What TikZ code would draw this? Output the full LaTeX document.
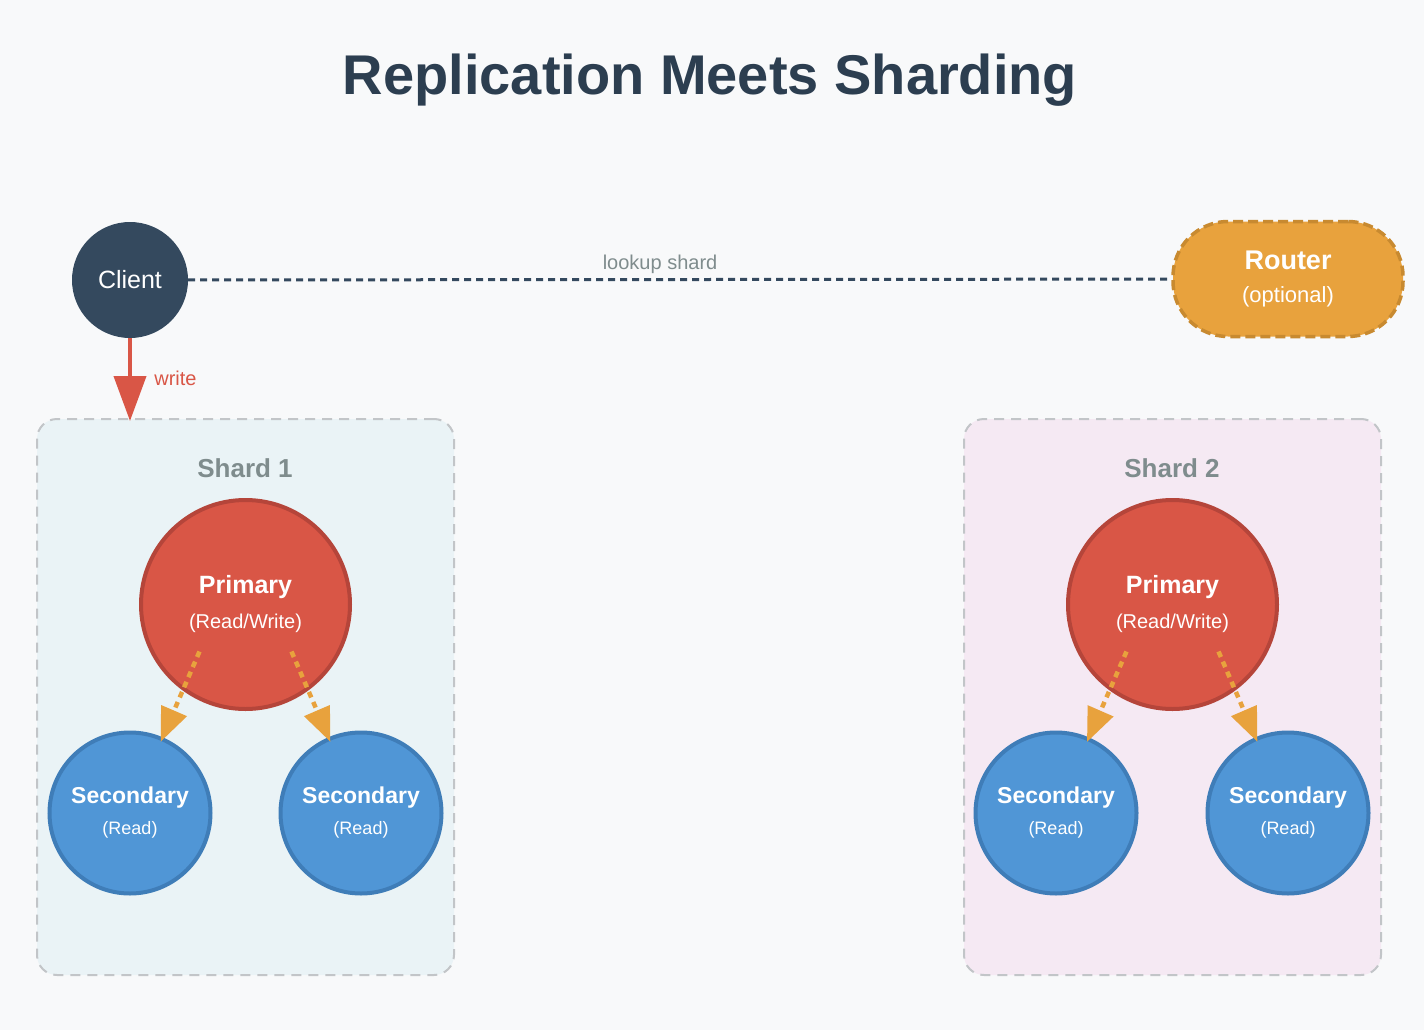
\documentclass[tikz,border=0pt]{standalone}
\usepackage{fontspec}
\setmainfont{Liberation Sans}
\usetikzlibrary{arrows.meta}

\definecolor{bgcol}{HTML}{F8F9FA}
\definecolor{titlecol}{HTML}{2C3E50}
\definecolor{clientcol}{HTML}{34495E}
\definecolor{primfill}{HTML}{D95646}
\definecolor{primline}{HTML}{B5453A}
\definecolor{secfill}{HTML}{5096D6}
\definecolor{secline}{HTML}{3F7DB8}
\definecolor{routfill}{HTML}{E8A23D}
\definecolor{routline}{HTML}{C88A30}
\definecolor{shardafill}{HTML}{EAF3F6}
\definecolor{shardbfill}{HTML}{F5E9F3}
\definecolor{shardline}{HTML}{C2C5C8}
\definecolor{lblgray}{HTML}{7F8C8D}

\tikzset{
	shardbox/.style = {draw=shardline, line width=2pt, dash pattern=on 10pt off 7pt,
		rounded corners=20pt, minimum width=417pt, minimum height=556pt, inner sep=0pt},
	shardlbl/.style = {text=lblgray, anchor=base, font=\bfseries\fontsize{26}{30}\selectfont},
	primnode/.style = {circle, draw=primline, fill=primfill, line width=4pt, minimum size=209pt,
		inner sep=0pt, text=white, align=center, font=\fontsize{20}{35}\selectfont},
	secnode/.style = {circle, draw=secline, fill=secfill, line width=4pt, minimum size=161pt,
		inner sep=0pt, text=white, align=center, font=\fontsize{18}{31}\selectfont},
	repl/.style = {routfill, line width=4.5pt, dash pattern=on 6pt off 5pt,
		-{Triangle[length=34pt, width=27pt]}, shorten >=-5pt}
}

\begin{document}
\begin{tikzpicture}[x=1pt, y=-1pt]
	\fill[bgcol] (0,0) rectangle (1424,1030);

	\node[text=titlecol, anchor=base, font=\bfseries\fontsize{56}{60}\selectfont] (title) at (710,95) {Replication Meets Sharding};

	% shards
	\node[shardbox, fill=shardafill] (shard1) at (245.5,697) {};
	\node[shardbox, fill=shardbfill] (shard2) at (1172.5,697) {};
	\node[shardlbl] (shard1lbl) at (245,477) {Shard 1};
	\node[shardlbl] (shard2lbl) at (1172,477) {Shard 2};

	% client and router
	\node[circle, fill=clientcol, minimum size=116pt, inner sep=0pt, text=white, font=\fontsize{25}{30}\selectfont] (client) at (130,280) {Client};
	\node[draw=routline, fill=routfill, line width=3.5pt, dash pattern=on 10pt off 5pt, rounded corners=55pt,
		minimum width=230pt, minimum height=115pt, text=white, align=center, font=\fontsize{22}{33}\selectfont] (router) at (1288,279)
		{{\bfseries\fontsize{27}{33}\selectfont Router}\\(optional)};

	\draw[clientcol, line width=3pt, dash pattern=on 7pt off 5pt] (client) -- (router)
		node[pos=0.48, above=1pt, text=lblgray, font=\fontsize{20}{24}\selectfont] {lookup shard};
	\draw[primfill, line width=4pt, -{Triangle[length=45pt, width=32pt]}, shorten >=-3pt] (client) -- (client |- shard1.north)
		node[midway, right=19pt, text=primfill, font=\fontsize{20}{24}\selectfont] {write};

	% replica sets
	\node[primnode] (p1) at (245.5,604.5) {{\bfseries\fontsize{25}{35}\selectfont Primary}\\(Read/Write)};
	\node[secnode] (s1a) at (130,813) {{\bfseries\fontsize{23}{31}\selectfont Secondary}\\(Read)};
	\node[secnode] (s1b) at (361,813) {{\bfseries\fontsize{23}{31}\selectfont Secondary}\\(Read)};

	\node[primnode] (p2) at (1172.5,604.5) {{\bfseries\fontsize{25}{35}\selectfont Primary}\\(Read/Write)};
	\node[secnode] (s2a) at (1056,813) {{\bfseries\fontsize{23}{31}\selectfont Secondary}\\(Read)};
	\node[secnode] (s2b) at (1288,813) {{\bfseries\fontsize{23}{31}\selectfont Secondary}\\(Read)};

	\draw[repl] ([shift={(-46,47)}]p1.center) -- (s1a);
	\draw[repl] ([shift={(46,47)}]p1.center) -- (s1b);
	\draw[repl] ([shift={(-46,47)}]p2.center) -- (s2a);
	\draw[repl] ([shift={(46,47)}]p2.center) -- (s2b);
\end{tikzpicture}
\end{document}
